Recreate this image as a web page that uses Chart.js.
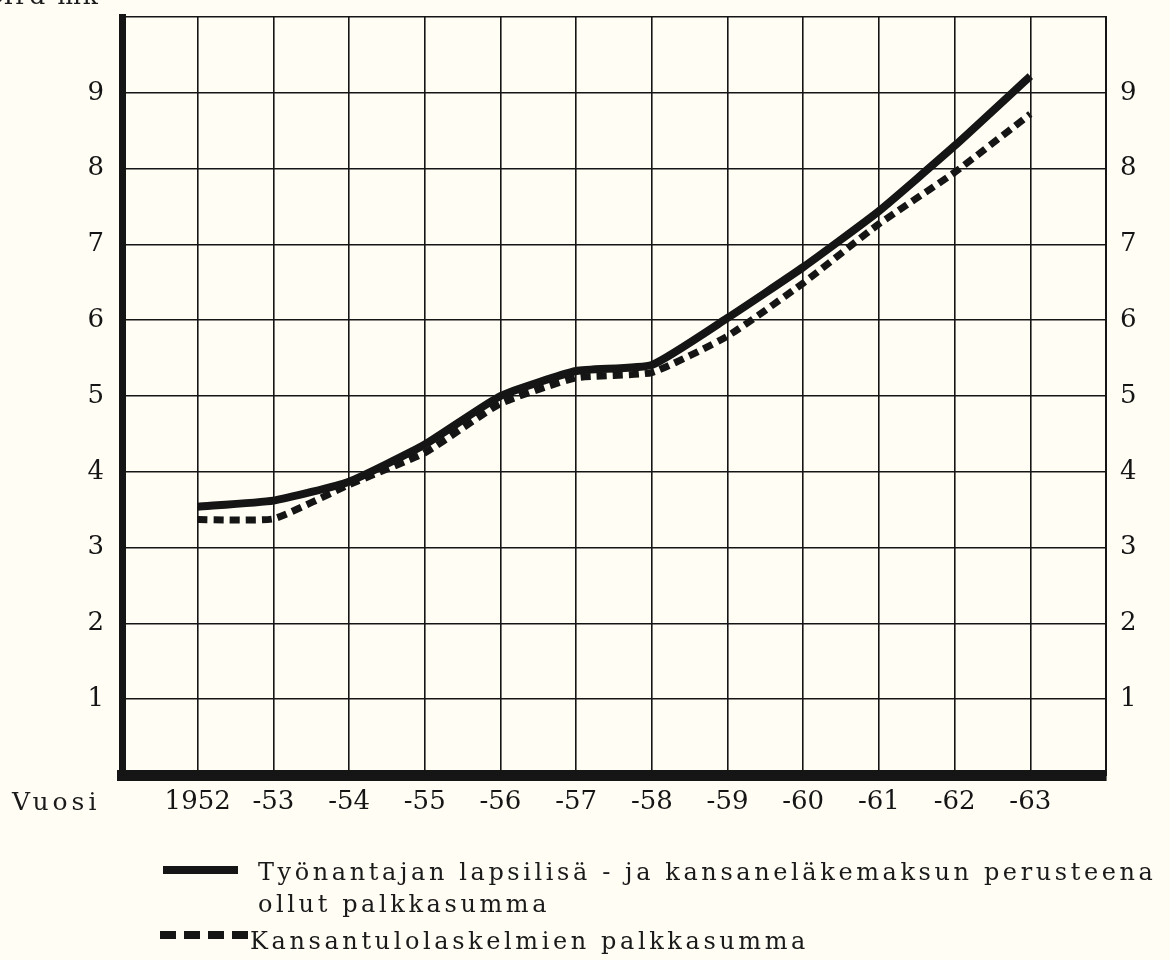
<!DOCTYPE html>
<html>
<head>
<meta charset="utf-8">
<script src="https://cdn.jsdelivr.net/npm/chart.js@4"></script>
<style>
	html, body { margin: 0; padding: 0; background: #fffdf4; }
	#wrap { position: relative; width: 1170px; height: 960px; overflow: hidden; }
	#chart { position: absolute; left: 0; top: 0; }
	.txt { position: absolute; font-family: "DejaVu Serif", serif; color: #1a1a1a; white-space: nowrap; line-height: 1; }
	.sample { position: absolute; height: 0; }
</style>
</head>
<body>
<div id="wrap">
	<canvas id="chart" width="1170" height="960"></canvas>
	<div class="txt" style="right:1070px; top:-17px; font-size:25px; letter-spacing:2px;">Mrd mk</div>
	<div class="txt" style="left:12px; top:789px; font-size:25px; letter-spacing:4px;">Vuosi</div>

	<div class="sample" style="left:163px; top:866px; width:75px; border-top:8px solid #151515;"></div>
	<div class="txt" style="left:258px; top:860px; font-size:24px; letter-spacing:3.6px;">Työnantajan lapsilisä - ja kansaneläkemaksun perusteena</div>
	<div class="txt" style="left:258px; top:892px; font-size:24px; letter-spacing:3.6px;">ollut palkkasumma</div>
	<div class="sample" style="left:160px; top:931px; width:88px; border-top:8px dashed #151515;"></div>
	<div class="txt" style="left:250px; top:929px; font-size:24px; letter-spacing:3.6px;">Kansantulolaskelmien palkkasumma</div>
</div>
<script>
// vuodet ja palkkasummat (Mrd mk), luettu kuvasta
const years = [1952, 1953, 1954, 1955, 1956, 1957, 1958, 1959, 1960, 1961, 1962, 1963];
const employerSum = [3.54, 3.62, 3.87, 4.36, 5.0, 5.33, 5.41, 6.03, 6.7, 7.44, 8.3, 9.22];
const nationalSum = [3.37, 3.38, 3.83, 4.25, 4.9, 5.24, 5.31, 5.79, 6.49, 7.27, 7.95, 8.72];
const yearLabels = ["1952", "-53", "-54", "-55", "-56", "-57", "-58", "-59", "-60", "-61", "-62", "-63"];
const yTicks = [1, 2, 3, 4, 5, 6, 7, 8, 9];

const ink = "#151515";
const tickFont = { family: "DejaVu Serif", size: 26 };

function yearLabel(value) {
	let i = years.indexOf(value);
	return i < 0 ? "" : yearLabels[i];
}

function yLabel(value) {
	return yTicks.includes(value) ? String(value) : "";
}

// no extra room for the half-height of the edge labels
function fixPadding(s) {
	s.paddingTop = 0;
	s.paddingBottom = 0;
	s.paddingLeft = 0;
	s.paddingRight = 0;
}

new Chart(document.getElementById("chart"), {
	type: "line",
	data: {
		datasets: [
			{
				label: "Työnantajan lapsilisä - ja kansaneläkemaksun perusteena ollut palkkasumma",
				data: years.map((y, i) => ({ x: y, y: employerSum[i] })),
				borderColor: ink,
				borderWidth: 8,
				pointRadius: 0,
				tension: 0.15,
				yAxisID: "y"
			},
			{
				label: "Kansantulolaskelmien palkkasumma",
				data: years.map((y, i) => ({ x: y, y: nationalSum[i] })),
				borderColor: ink,
				borderWidth: 7,
				borderDash: [10, 6],
				pointRadius: 0,
				tension: 0.15,
				yAxisID: "y"
			}
		]
	},
	options: {
		responsive: false,
		animation: false,
		devicePixelRatio: 1,
		layout: { padding: { top: 17, left: 0, right: 0, bottom: 0 } },
		plugins: { legend: { display: false }, tooltip: { enabled: false } },
		scales: {
			x: {
				type: "linear",
				min: 1951,
				max: 1964,
				afterFit: (s) => { fixPadding(s); s.height = 960 - 775; },
				ticks: { stepSize: 1, callback: yearLabel, color: ink, font: tickFont, padding: 12, maxRotation: 0, autoSkip: false },
				grid: { color: ink, lineWidth: 1.6, drawTicks: false },
				border: { display: true, color: ink, width: 11 }
			},
			y: {
				position: "left",
				min: 0,
				max: 10,
				afterFit: (s) => { fixPadding(s); s.width = 122; },
				ticks: { stepSize: 1, callback: yLabel, color: ink, font: tickFont, padding: 18 },
				grid: { color: ink, lineWidth: 1.6, drawTicks: false },
				border: { display: true, color: ink, width: 7 }
			},
			y2: {
				position: "right",
				min: 0,
				max: 10,
				afterFit: (s) => { fixPadding(s); s.width = 1170 - 1106; },
				ticks: { stepSize: 1, callback: yLabel, color: ink, font: tickFont, padding: 14 },
				grid: { display: false, drawTicks: false },
				border: { display: true, color: ink, width: 2 }
			}
		}
	}
});
</script>
</body>
</html>
